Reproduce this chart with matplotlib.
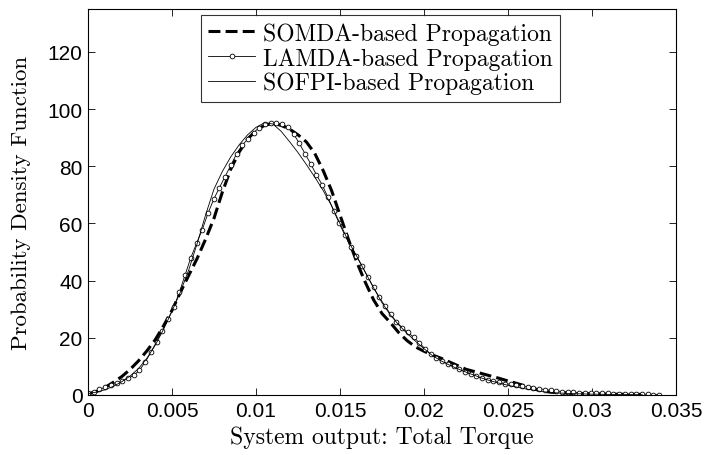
import numpy as np
import matplotlib
matplotlib.use("Agg")
import matplotlib.pyplot as plt

# ---------------- data ----------------
# LAMDA-based (circles), x in units of 1e-3, step 0.34e-3
lamda_y = [0.8, 1.2, 2.0, 2.7, 3.4, 4.1, 4.9, 5.8, 6.9, 8.6,
           11.5, 14.9, 18.6, 22.5, 26.5, 30.6, 36.0, 42.0, 48.0, 53.0,
           57.8, 63.5, 68.4, 72.5, 76.4, 80.3, 84.3, 87.3, 89.6, 91.8,
           93.5, 94.7, 95.1, 95.1, 94.7, 93.6, 91.3, 88.0, 84.4, 80.8,
           77.0, 73.5, 69.2, 64.5, 60.0, 55.8, 51.8, 48.6, 45.0, 41.3,
           37.6, 34.2, 31.1, 28.2, 25.6, 23.6, 21.9, 20.2, 18.3, 16.2,
           14.2, 12.8, 11.8, 10.9, 10.0, 9.0, 8.1, 7.3, 6.5, 5.8,
           5.3, 4.8, 4.4, 4.0, 3.7, 3.4, 3.1, 2.8, 2.5, 2.2,
           1.9, 1.6, 1.4, 1.2, 1.05, 0.95, 0.85, 0.75, 0.7, 0.65,
           0.6, 0.55, 0.5, 0.45, 0.4, 0.35, 0.3, 0.25, 0.2, 0.15,
           0.1]
lamda_x = np.arange(len(lamda_y)) * 0.34e-3

# SOMDA-based (dashed)
somda_x = [0, 0.5, 1.0, 1.5, 2.0, 2.5, 3.0, 3.5, 4.0, 4.5, 5.0, 5.5, 6.0,
           6.5, 7.0, 7.5, 8.0, 8.5, 9.0, 9.5, 10.0, 10.5, 11.0, 11.5, 12.0,
           12.5, 13.0, 13.5, 14.0, 14.5, 15.0, 15.5, 16.0, 16.5, 17.0, 17.5,
           18.0, 18.5, 19.0, 19.5, 20.0, 20.5, 21.0, 21.5, 22.0, 22.5, 23.0,
           23.5, 24.0, 24.5, 25.0, 25.5, 26.0, 26.5, 27.0, 27.5, 28.0, 29.0,
           30.0, 31.0, 32.0, 33.0]
somda_y = [0.3, 1.2, 2.6, 4.4, 6.4, 8.9, 11.9, 15.4, 19.3, 24.2, 29.6, 35.9, 41.9,
           47.8, 54.5, 61.8, 71.0, 79.0, 85.0, 89.5, 92.5, 94.3, 95.0, 94.3, 93.0,
           91.0, 88.5, 84.5, 78.5, 71.5, 63.0, 54.5, 46.5, 39.5, 33.3, 28.5,
           25.3, 21.8, 19.0, 16.8, 15.3, 14.0, 12.9, 11.6, 10.3, 9.0, 8.2,
           7.4, 6.6, 5.8, 4.9, 4.1, 3.2, 2.2, 1.5, 1.0, 0.8, 0.5,
           0.4, 0.3, 0.25, 0.2]

# SOFPI-based (thin solid)
sofpi_x = [0, 0.5, 1.0, 1.5, 2.0, 2.5, 3.0, 3.5, 4.0, 4.5, 5.0, 5.5, 6.0,
           6.5, 7.0, 7.5, 8.0, 8.5, 9.0, 9.5, 10.0, 10.5, 11.0, 11.5, 12.0,
           12.5, 13.0, 13.5, 14.0, 14.5, 15.0, 15.5, 16.0, 16.5, 17.0, 17.5,
           18.0, 18.5, 19.0, 19.5, 20.0, 20.5, 21.0, 21.5, 22.0, 22.5, 23.0,
           23.5, 24.0, 24.5, 25.0, 25.5, 26.0, 26.5, 27.0, 28.0, 29.0, 30.0,
           31.0, 32.0, 33.0]
sofpi_y = [0.5, 1.0, 1.8, 3.0, 4.6, 6.6, 9.2, 12.8, 17.4, 23.0, 29.3, 36.0, 43.8,
           53.0, 63.0, 72.0, 78.2, 83.3, 87.5, 91.0, 93.6, 95.2, 94.8, 92.2, 88.6,
           84.8, 80.6, 76.2, 71.5, 66.2, 60.0, 53.8, 48.5, 43.0, 37.5, 32.3,
           28.0, 24.5, 21.5, 18.8, 16.2, 13.8, 12.0, 10.5, 9.2, 8.0, 6.9,
           5.8, 4.9, 4.1, 3.4, 2.8, 2.2, 1.7, 1.2, 0.7, 0.45, 0.3,
           0.2, 0.15, 0.1]

x_ticks = [0, 0.005, 0.01, 0.015, 0.02, 0.025, 0.03, 0.035]
x_tick_labels = ["0", "0.005", "0.01", "0.015", "0.02", "0.025", "0.03", "0.035"]
y_ticks = [0, 20, 40, 60, 80, 100, 120]

labels = ["SOMDA-based Propagation", "LAMDA-based Propagation", "SOFPI-based Propagation"]

# ---------------- plot ----------------
fig = plt.figure(figsize=(7.07, 4.56), dpi=100)
ax = fig.add_axes([0.1245, 0.1316, 0.8315, 0.8465])

ax.plot(np.array(somda_x) * 1e-3, somda_y, color="black", lw=2.2,
        linestyle=(0, (3.9, 1.7)), label=labels[0])
ax.plot(lamda_x, lamda_y, color="black", lw=0.6, marker="o", markersize=3.4,
        markerfacecolor="white", markeredgewidth=0.6, label=labels[1])
ax.plot(np.array(sofpi_x) * 1e-3, sofpi_y, color="black", lw=0.6, label=labels[2])

ax.set_xlim(0, 0.035)
ax.set_ylim(0, 135)
ax.set_xticks(x_ticks)
ax.set_xticklabels(x_tick_labels)
ax.set_yticks(y_ticks)
for lab in ax.get_xticklabels() + ax.get_yticklabels():
    lab.set_fontfamily("Liberation Sans")
    lab.set_fontsize(15)
ax.tick_params(direction="in", length=5, width=0.6, top=True, right=True, pad=4)
for s in ax.spines.values():
    s.set_linewidth(0.8)

ax.set_xlabel("System output: Total Torque", fontfamily="cmr10", fontsize=17, labelpad=4)
ax.set_ylabel("Probability Density Function", fontfamily="cmr10", fontsize=16.5, labelpad=12)

leg = ax.legend(loc="upper left", bbox_to_anchor=(0.192, 0.984), prop={"family": "cmr10", "size": 17},
                frameon=True, fancybox=False, edgecolor="black", handlelength=2.0,
                borderpad=0.3, labelspacing=0.1, handletextpad=0.35, borderaxespad=0.0)
leg.get_frame().set_linewidth(0.8)

fig.savefig("out.png", dpi=100)
